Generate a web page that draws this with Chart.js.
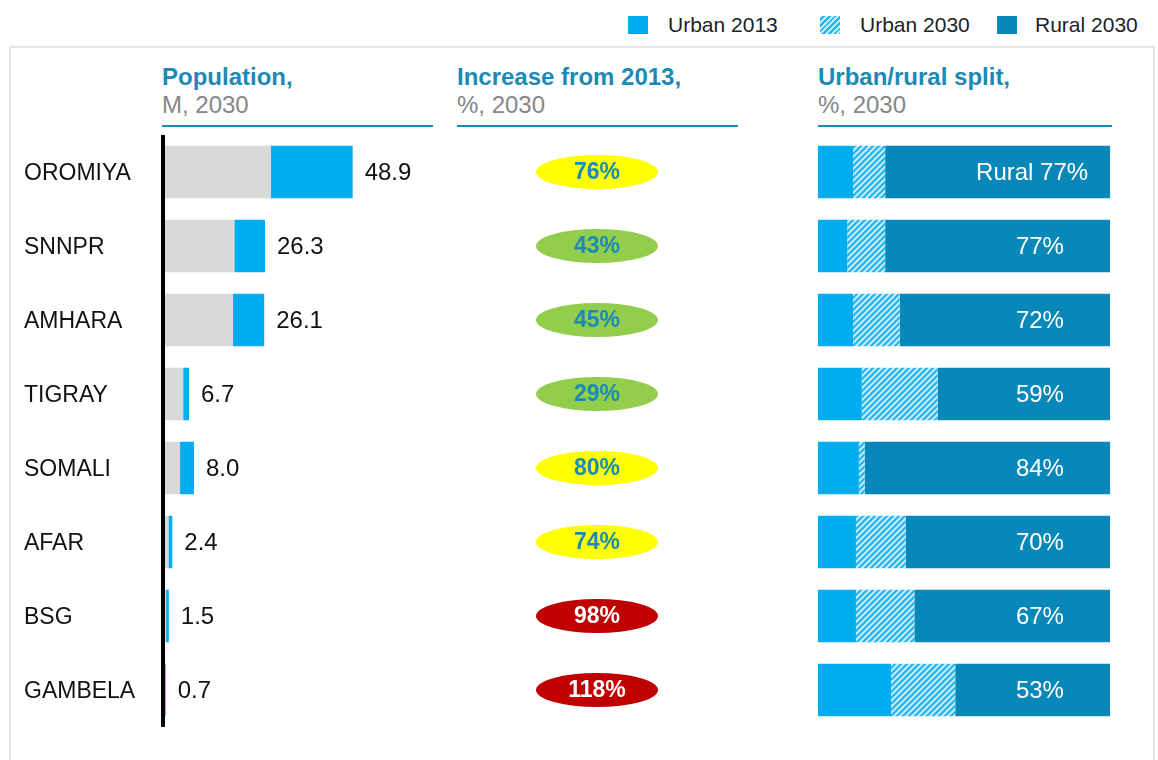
<!DOCTYPE html>
<html><head><meta charset="utf-8">
<script src="https://cdn.jsdelivr.net/npm/chart.js@4/dist/chart.umd.min.js"></script>
<style>
html,body{margin:0;padding:0;background:#fff;width:1158px;height:760px;overflow:hidden;font-family:"Liberation Sans",Arial,sans-serif;}
#frame{position:absolute;left:9px;top:46px;width:1142px;height:740px;border:2px solid #e6e6e6;}
.hdr{position:absolute;top:63px;height:62px;border-bottom:2px solid #1b8ab5;}
.hdr div{font-size:24px;line-height:28px;white-space:nowrap;}
.hdr .t{font-weight:bold;color:#1b8ab5;}
.hdr .s{color:#868686;}
.lg{position:absolute;top:14px;font-size:21px;line-height:22px;color:#222;white-space:nowrap;}
.sw{position:absolute;top:16px;width:20px;height:18px;}
canvas{position:absolute;}
</style></head>
<body>
<div id="frame"></div>

<div class="sw" style="left:628px;background:#00AEEF"></div>
<div class="lg" style="left:668px">Urban 2013</div>
<div class="sw" style="left:820px;background:repeating-linear-gradient(135deg,#bfe9fb 0 2px,#22b4ee 2px 4px)"></div>
<div class="lg" style="left:860px">Urban 2030</div>
<div class="sw" style="left:997px;background:#0788B9"></div>
<div class="lg" style="left:1035px">Rural 2030</div>

<div class="hdr" style="left:162px;width:271px"><div class="t">Population,</div><div class="s">M, 2030</div></div>
<div class="hdr" style="left:457px;width:281px"><div class="t">Increase from 2013,</div><div class="s">%, 2030</div></div>
<div class="hdr" style="left:818px;width:294px"><div class="t">Urban/rural split,</div><div class="s">%, 2030</div></div>

<canvas id="pop" width="450" height="592" style="left:0;top:135px"></canvas>
<canvas id="inc" width="300" height="592" style="left:447px;top:135px"></canvas>
<canvas id="split" width="292" height="592" style="left:818px;top:135px"></canvas>

<script>
// ---- data ----
const regions = ['OROMIYA','SNNPR','AMHARA','TIGRAY','SOMALI','AFAR','BSG','GAMBELA'];
const pop2030 = [48.9, 26.3, 26.1, 6.7, 8.0, 2.4, 1.5, 0.7];
const pop2013 = [27.8, 18.4, 18.0, 5.2, 4.4, 1.4, 0.8, 0.3];
const increasePct = [76, 43, 45, 29, 80, 74, 98, 118];
const urban2013Share = [12, 10, 12, 15, 14, 13, 13, 25];
const urbanGrowthShare = [11, 13, 16, 26, 2, 17, 20, 22];
const rural2030Share = [77, 77, 72, 59, 84, 70, 67, 53];

const FONT = '"Liberation Sans", Arial, sans-serif';
const gain = pop2030.map((v, i) => +(v - pop2013[i]).toFixed(1));

// ---- population chart ----
const popLabels = {
  id: 'popLabels',
  afterDatasetsDraw(chart) {
    const ctx = chart.ctx;
    const meta = chart.getDatasetMeta(1);
    ctx.save();
    ctx.font = '24px ' + FONT;
    ctx.fillStyle = '#111';
    ctx.textBaseline = 'middle';
    ctx.textAlign = 'left';
    meta.data.forEach((el, i) => {
      ctx.fillText(pop2030[i].toFixed(1), el.x + 12, el.y + 1);
    });
    ctx.restore();
  }
};
new Chart(document.getElementById('pop'), {
  type: 'bar',
  data: {
    labels: regions,
    datasets: [
      { label: '2013', data: pop2013, backgroundColor: '#D9D9D9', categoryPercentage: 1, barPercentage: 0.71 },
      { label: 'Increase', data: gain, backgroundColor: '#00AEEF', categoryPercentage: 1, barPercentage: 0.71 }
    ]
  },
  options: {
    indexAxis: 'y', responsive: false, animation: false,
    layout: { padding: { left: 24, top: 0, bottom: 0, right: 0 } },
    plugins: { legend: { display: false }, tooltip: { enabled: false } },
    scales: {
      x: { stacked: true, display: false, min: 0, max: 74 },
      y: {
        stacked: true,
        grid: { display: true, drawOnChartArea: false, drawTicks: false, color: 'transparent' },
        border: { display: true, color: '#000', width: 4, z: 1 },
        ticks: { crossAlign: 'far', color: '#111', font: { family: FONT, size: 23 }, padding: 0, labelOffset: 2 },
        afterFit(s) { s.width = 139; s.paddingTop = 0; s.paddingBottom = 0; }
      }
    }
  },
  plugins: [popLabels]
});

// ---- increase chart ----
function incColor(v) { return v < 50 ? '#92CD4C' : (v < 90 ? '#FFFF00' : '#C00000'); }
const ellipses = {
  id: 'ellipses',
  afterDatasetsDraw(chart) {
    const ctx = chart.ctx;
    const meta = chart.getDatasetMeta(0);
    ctx.save();
    meta.data.forEach((el, i) => {
      const v = increasePct[i];
      ctx.beginPath();
      ctx.ellipse(el.x, el.y, 61, 17, 0, 0, Math.PI * 2);
      ctx.fillStyle = incColor(v);
      ctx.fill();
      ctx.font = 'bold 23px ' + FONT;
      ctx.textAlign = 'center';
      ctx.textBaseline = 'middle';
      ctx.fillStyle = v >= 90 ? '#ffffff' : '#1b8ab5';
      ctx.fillText(v + '%', el.x, el.y + 1);
    });
    ctx.restore();
  }
};
new Chart(document.getElementById('inc'), {
  type: 'scatter',
  data: {
    datasets: [{ label: 'Increase', data: increasePct.map((v, i) => ({ x: 0, y: regions[i] })), pointRadius: 0 }]
  },
  options: {
    responsive: false, animation: false,
    layout: { padding: 0 },
    plugins: { legend: { display: false }, tooltip: { enabled: false } },
    scales: {
      x: { type: 'linear', min: -1, max: 1, display: false },
      y: { type: 'category', labels: regions, offset: true, display: false }
    }
  },
  plugins: [ellipses]
});

// ---- split chart ----
const pc = document.createElement('canvas');
pc.width = 6; pc.height = 6;
const p = pc.getContext('2d');
p.fillStyle = '#c4ebfb'; p.fillRect(0, 0, 6, 6);
p.strokeStyle = '#20b3ee'; p.lineWidth = 2;
p.beginPath();
p.moveTo(-1, 7); p.lineTo(7, -1);
p.moveTo(-4, 4); p.lineTo(4, -4);
p.moveTo(2, 10); p.lineTo(10, 2);
p.stroke();
const hatch = p.createPattern(pc, 'repeat');

const splitLabels = {
  id: 'splitLabels',
  afterDatasetsDraw(chart) {
    const ctx = chart.ctx;
    const meta = chart.getDatasetMeta(2);
    const xs = chart.scales.x;
    ctx.save();
    ctx.font = '24px ' + FONT;
    ctx.fillStyle = '#ffffff';
    ctx.textBaseline = 'middle';
    meta.data.forEach((el, i) => {
      if (i === 0) {
        ctx.textAlign = 'right';
        ctx.fillText('Rural ' + rural2030Share[i] + '%', xs.getPixelForValue(92.5), el.y + 1);
      } else {
        ctx.textAlign = 'center';
        ctx.fillText(rural2030Share[i] + '%', xs.getPixelForValue(76), el.y + 1);
      }
    });
    ctx.restore();
  }
};
new Chart(document.getElementById('split'), {
  type: 'bar',
  data: {
    labels: regions,
    datasets: [
      { label: 'Urban 2013', data: urban2013Share, backgroundColor: '#00AEEF', categoryPercentage: 1, barPercentage: 0.71 },
      { label: 'Urban 2030', data: urbanGrowthShare, backgroundColor: hatch, categoryPercentage: 1, barPercentage: 0.71 },
      { label: 'Rural 2030', data: rural2030Share, backgroundColor: '#0788B9', categoryPercentage: 1, barPercentage: 0.71 }
    ]
  },
  options: {
    indexAxis: 'y', responsive: false, animation: false,
    layout: { padding: 0 },
    plugins: { legend: { display: false }, tooltip: { enabled: false } },
    scales: {
      x: { stacked: true, display: false, min: 0, max: 100 },
      y: { stacked: true, display: false }
    }
  },
  plugins: [splitLabels]
});
</script>
</body></html>
